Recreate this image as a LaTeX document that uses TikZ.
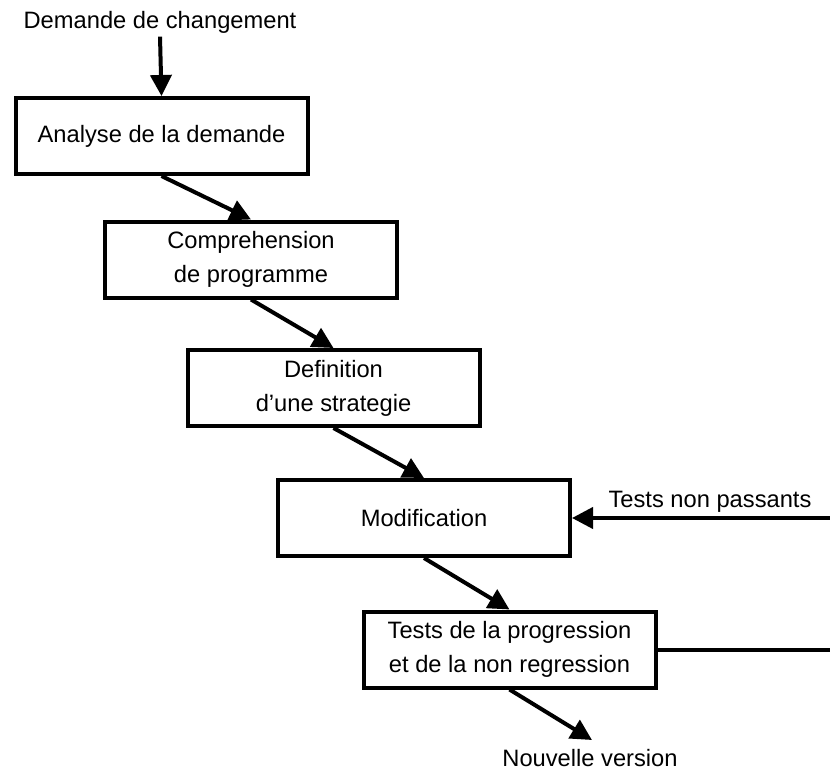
\documentclass[tikz,border=0pt]{standalone}
\usepackage{fontspec}
\setmainfont{Liberation Sans}
\usetikzlibrary{arrows.meta}

\begin{document}
\begin{tikzpicture}[x=1pt,y=-1pt,
    every node/.style={font=\fontsize{23.7}{34}\selectfont},
    etape/.style={draw,line width=4pt,minimum width=292pt,minimum height=76pt,align=center,inner sep=0pt},
    fleche/.style={line width=4pt,-{Triangle[length=21pt,width=21pt]}}]
    \useasboundingbox (0,0) rectangle (830,771);
    \node                   (demande)         at (160,22)      {Demande de changement};
    \node[etape]            (analyse)         at (161.5,136)   {Analyse de la demande};
    \node[etape]            (comprehension)   at (251,259.5)   {Comprehension\\de programme};
    \node[etape]            (strategie)       at (333.5,388)   {Definition\\d'une strategie};
    \node[etape]            (modification)    at (424,518)     {Modification};
    \node[etape]            (tests)           at (509.5,649.5) {Tests de la progression\\et de la non regression};
    \node                   (nonpassants)     at (710,502)     {Tests non passants};
    \node[inner sep=1pt]    (version)         at (590,758)     {Nouvelle version};
    \coordinate             (retour)          at (830,518);
    \coordinate             (sortie)          at (830,649.5);
    \coordinate             (versionpointe)   at (592,740);
    \draw[fleche] (demande.south) -- (analyse.north);
    \draw[fleche] (analyse.south) -- (comprehension.north);
    \draw[fleche] (comprehension.south) -- (strategie.north);
    \draw[fleche] (strategie.south) -- (modification.north);
    \draw[fleche] (modification.south) -- (tests.north);
    \draw[fleche] (tests.south) -- (versionpointe);
    \draw[fleche] (retour) -- (modification.east);
    \draw[line width=4pt] (tests.east) -- (sortie);
\end{tikzpicture}
\end{document}
